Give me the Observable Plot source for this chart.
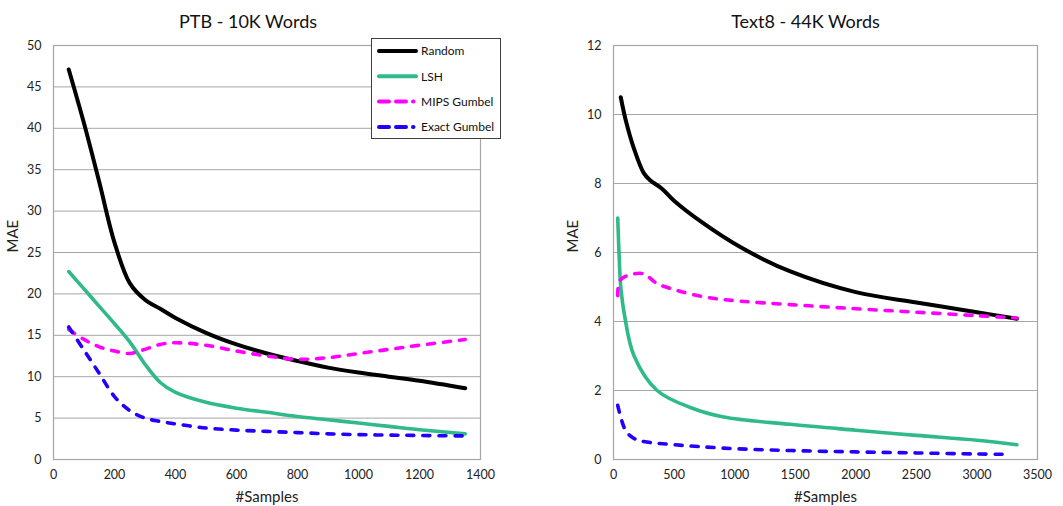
<!DOCTYPE html>
<html>
<head>
<meta charset="utf-8">
<script src="https://cdn.jsdelivr.net/npm/d3@7"></script>
<script src="https://cdn.jsdelivr.net/npm/@observablehq/plot@0.6"></script>
<style>
  body { margin: 0; background: white; }
  #wrap { position: relative; width: 1063px; height: 506px; overflow: hidden; font-family: Lato, "Open Sans", sans-serif; }
  .panel { position: absolute; top: 0; }
  #legend { position: absolute; left: 371px; top: 38px; width: 130px; height: 101px; border: 1px solid #404040; background: white; box-sizing: border-box; }
</style>
</head>
<body>
<div id="wrap">
  <div class="panel" id="left" style="left:0"></div>
  <div class="panel" id="right" style="left:530px"></div>
  <div id="legend"></div>
</div>
<script>
// ---------- data ----------
const seriesNames = ["Random", "LSH", "MIPS Gumbel", "Exact Gumbel"];
const seriesColors = ["#000000", "#2fba88", "#ff00ff", "#2200ff"];
const seriesDashed = [false, false, true, true];

// PTB - 10K Words
const ptbX = [50, 100, 150, 200, 250, 300, 350, 400, 500, 600, 700, 800, 900, 1000, 1100, 1200, 1350];
const ptbExactX = [50, 100, 150, 200, 250, 300, 350, 400, 500, 600, 700, 800, 900, 1000, 1100, 1200, 1340];
const ptbRandom = [47.1, 40.6, 33.5, 26.2, 21.3, 19.3, 18.2, 17.1, 15.3, 13.9, 12.8, 11.9, 11.1, 10.5, 10.0, 9.5, 8.6];
const ptbLSH    = [22.7, 20.6, 18.5, 16.4, 14.2, 11.5, 9.3, 8.1, 6.9, 6.2, 5.7, 5.2, 4.8, 4.4, 4.0, 3.6, 3.1];
const ptbMIPS   = [15.7, 14.5, 13.6, 13.1, 12.8, 13.3, 13.9, 14.1, 13.8, 13.1, 12.5, 12.1, 12.3, 12.8, 13.3, 13.8, 14.5];
const ptbExact  = [16.0, 13.2, 10.4, 7.6, 5.9, 5.0, 4.6, 4.3, 3.8, 3.55, 3.4, 3.25, 3.1, 3.0, 2.95, 2.9, 2.85];

// Text8 - 44K Words
const t8RandomX = [60, 100, 170, 250, 300, 400, 500, 720, 1050, 1460, 2000, 2500, 3000, 3330];
const t8Random  = [10.5, 9.85, 9.0, 8.3, 8.1, 7.85, 7.5, 6.9, 6.15, 5.45, 4.85, 4.55, 4.27, 4.08];
const t8LSHX = [35, 50, 60, 90, 170, 360, 640, 910, 1460, 2000, 2500, 3000, 3330];
const t8LSH  = [7.0, 5.6, 5.0, 4.2, 3.0, 2.0, 1.5, 1.23, 1.02, 0.85, 0.70, 0.56, 0.43];
const t8MIPSX = [35, 60, 240, 360, 525, 770, 1050, 1460, 2000, 2500, 3000, 3330];
const t8MIPS  = [4.75, 5.22, 5.39, 5.1, 4.9, 4.7, 4.59, 4.49, 4.37, 4.27, 4.17, 4.1];
const t8ExactX = [35, 100, 170, 250, 500, 910, 1460, 2000, 2500, 3000, 3270];
const t8Exact  = [1.57, 0.84, 0.61, 0.52, 0.43, 0.33, 0.26, 0.22, 0.19, 0.16, 0.15];

// axes
const ptbXTicks = [0, 200, 400, 600, 800, 1000, 1200, 1400];
const ptbYTicks = [0, 5, 10, 15, 20, 25, 30, 35, 40, 45, 50];
const t8XTicks = [0, 500, 1000, 1500, 2000, 2500, 3000, 3500];
const t8YTicks = [0, 2, 4, 6, 8, 10, 12];

const titles = ["PTB - 10K Words", "Text8 - 44K Words"];
const xLabel = "#Samples";
const yLabel = "MAE";

// ---------- drawing ----------
const FONT = "Lato, 'Open Sans', sans-serif";
const GRID = "#a6a6a6";

function rows(xs, ys) { return ys.map((y, i) => ({x: xs[i], y})); }

function lineMark(data, k) {
  return Plot.line(data, {
    x: "x", y: "y", curve: "catmull-rom",
    stroke: seriesColors[k],
    strokeWidth: k === 0 ? 4 : 3.6,
    strokeLinecap: "round",
    strokeLinejoin: "round",
    strokeDasharray: seriesDashed[k] ? "7,9" : null
  });
}

function chart({series, width, marginLeft, marginRight, xDomain, xTicks, yDomain, yTicks, title, titleDx}) {
  return Plot.plot({
    width, height: 506,
    marginLeft, marginRight, marginTop: 45, marginBottom: 47,
    style: {fontFamily: FONT, fontSize: "12.5px", color: "#222", background: "white"},
    x: {domain: xDomain, ticks: xTicks, tickFormat: d => String(d), tickSize: 0, tickPadding: 11, label: null},
    y: {domain: yDomain, ticks: yTicks, tickFormat: d => String(d), tickSize: 0, tickPadding: 12, label: null},
    marks: [
      Plot.ruleY(yTicks, {stroke: GRID, strokeWidth: 1}),
      Plot.frame({stroke: GRID, strokeWidth: 1.2}),
      ...series.map((d, k) => lineMark(d, k)),
      Plot.text([title], {text: d => d, frameAnchor: "top", dy: -30, dx: titleDx, fontSize: 18, fill: "#111"}),
      Plot.text([yLabel], {text: d => d, frameAnchor: "left", dx: -40, rotate: -90, fontSize: 15, fill: "#222"}),
      Plot.text([xLabel], {text: d => d, frameAnchor: "bottom", dy: 42, fontSize: 15, fill: "#222"})
    ]
  });
}

document.getElementById("left").appendChild(chart({
  series: [rows(ptbX, ptbRandom), rows(ptbX, ptbLSH), rows(ptbX, ptbMIPS), rows(ptbExactX, ptbExact)],
  width: 530, marginLeft: 53, marginRight: 50,
  xDomain: [0, 1400], xTicks: ptbXTicks, yDomain: [0, 50], yTicks: ptbYTicks,
  title: titles[0], titleDx: -19
}));

document.getElementById("right").appendChild(chart({
  series: [rows(t8RandomX, t8Random), rows(t8LSHX, t8LSH), rows(t8MIPSX, t8MIPS), rows(t8ExactX, t8Exact)],
  width: 533, marginLeft: 83, marginRight: 26,
  xDomain: [0, 3500], xTicks: t8XTicks, yDomain: [0, 12], yTicks: t8YTicks,
  title: titles[1], titleDx: -20
}));

// legend
(function () {
  const ns = "http://www.w3.org/2000/svg";
  const svg = document.createElementNS(ns, "svg");
  svg.setAttribute("width", 128);
  svg.setAttribute("height", 99);
  svg.style.display = "block";
  seriesNames.forEach((name, k) => {
    const y = 12 + k * 25.3;
    const segs = seriesDashed[k] ? [[7, 17], [24, 34], [41, 41.5]] : [[7, 44]];
    segs.forEach(([a, b]) => {
      const l = document.createElementNS(ns, "line");
      l.setAttribute("x1", a); l.setAttribute("x2", b);
      l.setAttribute("y1", y); l.setAttribute("y2", y);
      l.setAttribute("stroke", seriesColors[k]);
      l.setAttribute("stroke-width", 4);
      l.setAttribute("stroke-linecap", "round");
      svg.appendChild(l);
    });
    const t = document.createElementNS(ns, "text");
    t.setAttribute("x", 49); t.setAttribute("y", y);
    t.setAttribute("dy", "0.35em");
    t.setAttribute("font-family", FONT);
    t.setAttribute("font-size", "12px");
    t.setAttribute("fill", "#111");
    t.textContent = name;
    svg.appendChild(t);
  });
  document.getElementById("legend").appendChild(svg);
})();
</script>
</body>
</html>
